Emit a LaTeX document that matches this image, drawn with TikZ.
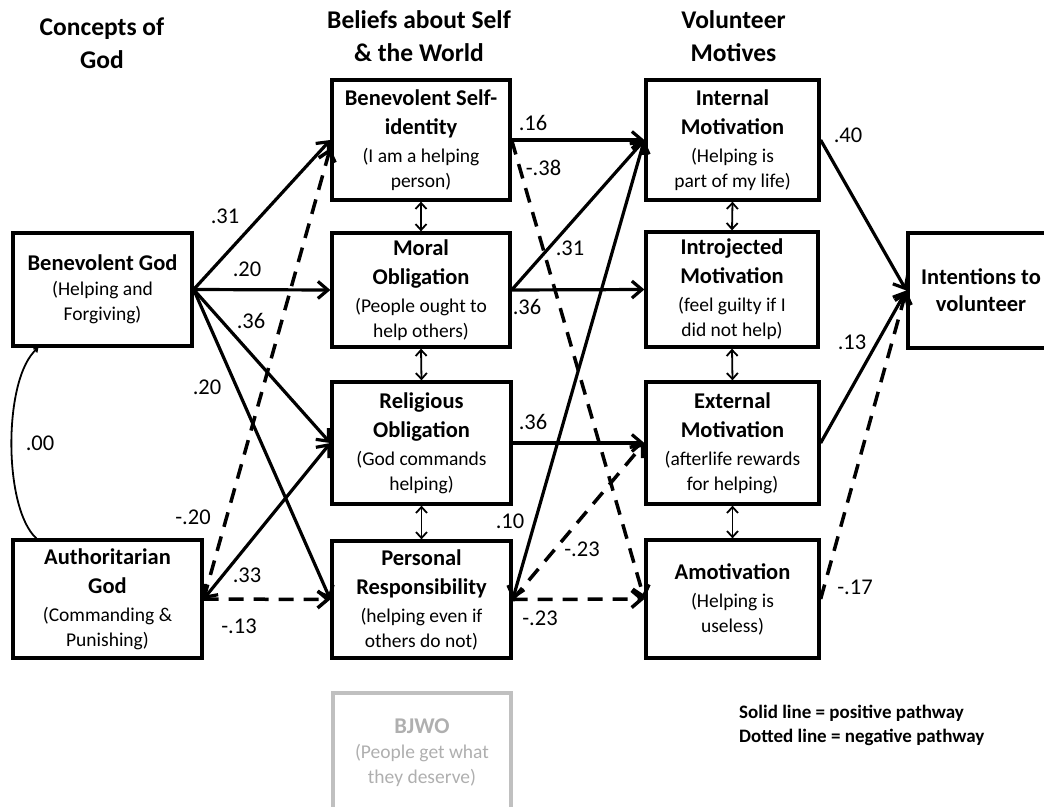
\documentclass[tikz,border=0pt]{standalone}
\usepackage{fontspec}
\setmainfont{Carlito}
\usetikzlibrary{arrows.meta,calc}
\definecolor{lg}{RGB}{192,192,192}
\definecolor{lgt}{RGB}{175,175,175}
\newcommand{\bt}[1]{{\bfseries\fontsize{22.5}{25}\selectfont #1}}
\begin{document}
\begin{tikzpicture}[x=1pt,y=-1pt,
  >={Straight Barb[length=10pt,width=17pt]},
  bx/.style={draw, line width=3.3pt, align=center, inner sep=0pt, font=\fontsize{19.5}{25}\selectfont},
  pa/.style={line width=3.2pt, ->},
  na/.style={line width=3.5pt, ->, dash pattern=on 15pt off 10pt},
  dbl/.style={line width=1.8pt, {Straight Barb[length=6pt,width=11pt]}-{Straight Barb[length=6pt,width=11pt]}},
  lbl/.style={font=\fontsize{22.5}{26}\selectfont, inner sep=0pt},
  hdr/.style={font=\bfseries\fontsize{25.5}{33}\selectfont, align=center, inner sep=0pt}]
\useasboundingbox (0,0) rectangle (1044,806);

% headers
\node[hdr] (h1) at (102,43.5) {Concepts of\\God};
\node[hdr] (h2) at (419,36) {Beliefs about Self\\\& the World};
\node[hdr] (h3) at (733.5,36.5) {Volunteer\\Motives};

% boxes
\node[bx, minimum width=179pt, minimum height=113pt] (BG) at (102.5,289.5) {\bt{Benevolent God}\\(Helping and\\Forgiving)};
\node[bx, minimum width=189pt, minimum height=118pt] (AG) at (107.5,599) {\bt{Authoritarian}\\[4pt]\bt{God}\\[3pt](Commanding \&\\Punishing)};

\node[bx, minimum width=178pt, minimum height=120pt] (BS) at (421,140) {\bt{Benevolent Self-}\\[4pt]\bt{identity}\\[3pt](I am a helping\\person)};
\node[bx, minimum width=178pt, minimum height=114pt] (MO) at (421,290) {\bt{Moral}\\[4pt]\bt{Obligation}\\[3pt](People ought to\\help others)};
\node[bx, minimum width=179pt, minimum height=122pt] (RO) at (421.5,443) {\bt{Religious}\\[4pt]\bt{Obligation}\\[3pt](God commands\\helping)};
\node[bx, minimum width=179pt, minimum height=117pt] (PR) at (421.5,599.5) {\bt{Personal}\\[4pt]\bt{Responsibility}\\[3pt](helping even if\\others do not)};
\node[bx, draw=lg, text=lgt, minimum width=178pt, minimum height=120pt] (BJ) at (422,753) {\bt{BJWO}\\(People get what\\they deserve)};

\node[bx, minimum width=173pt, minimum height=120pt] (IM) at (732.5,140) {\bt{Internal}\\[4pt]\bt{Motivation}\\[3pt](Helping is\\part of my life)};
\node[bx, minimum width=172pt, minimum height=115pt] (IJ) at (732,289.5) {\bt{Introjected}\\[4pt]\bt{Motivation}\\[3pt](feel guilty if I\\did not help)};
\node[bx, minimum width=173pt, minimum height=122pt] (EX) at (732.5,443) {\bt{External}\\[4pt]\bt{Motivation}\\[3pt](afterlife rewards\\for helping)};
\node[bx, minimum width=173pt, minimum height=118pt] (AM) at (732.5,599) {\bt{Amotivation}\\[3pt](Helping is\\useless)};

\node[bx, minimum width=146pt, minimum height=115pt] (IN) at (981,290.5) {\bt{Intentions to}\\[2pt]\bt{volunteer}};

% paths from Concepts of God
\draw[pa] (BG.east) -- (BS.west);
\draw[pa] (BG.east) -- (MO.west);
\draw[pa] (BG.east) -- (RO.west);
\draw[pa] (BG.east) -- (PR.west);
\draw[na] (AG.east) -- ($(BS.west)+(0,8)$);
\draw[pa, <->] (AG.east) -- (RO.west);
\draw[na] (AG.east) -- (PR.west);

% paths from beliefs
\draw[pa] (BS.east) -- (IM.west);
\draw[na] (BS.east) -- (AM.west);
\draw[pa] (MO.east) -- (IM.west);
\draw[pa] (MO.east) -- (IJ.west);
\draw[pa] (RO.east) -- (EX.west);
\draw[pa, <->] (PR.east) -- (IM.west);
\draw[na] (PR.east) -- (EX.west);
\draw[na] (PR.east) -- (AM.west);

% paths to intentions
\draw[pa] (IM.east) -- (IN.west);
\draw[pa] (EX.east) -- (IN.west);
\draw[na] (AM.east) -- (IN.west);

% correlations
\draw[dbl] (BS.south) -- (MO.north);
\draw[dbl] (MO.south) -- (RO.north);
\draw[dbl] (RO.south) -- (PR.north);
\draw[dbl] (IM.south) -- (IJ.north);
\draw[dbl] (IJ.south) -- (EX.north);
\draw[dbl] (EX.south) -- (AM.north);

\draw[line width=1.8pt, {Straight Barb[length=3pt,width=5pt]}-] ($(BG.south west)+(27,0)$) .. controls (3,378) and (3,508) .. ($(AG.north west)+(25,0)$);

% labels
\node[lbl] (l1) at (225,216) {.31};
\node[lbl] (l2) at (247,269) {.20};
\node[lbl] (l3) at (251,321) {.36};
\node[lbl] (l4) at (207,387) {.20};
\node[lbl] (l5) at (40,443) {.00};
\node[lbl] (l6) at (193,517) {-.20};
\node[lbl] (l7) at (247,575) {.33};
\node[lbl] (l8) at (239,626) {-.13};
\node[lbl] (l9) at (533,123) {.16};
\node[lbl] (l10) at (543.5,168) {-.38};
\node[lbl] (l11) at (570,248) {.31};
\node[lbl] (l12) at (527,307) {.36};
\node[lbl] (l13) at (848,135) {.40};
\node[lbl] (l14) at (852,342) {.13};
\node[lbl] (l15) at (533,422) {.36};
\node[lbl] (l16) at (510,521) {.10};
\node[lbl] (l17) at (582,549) {-.23};
\node[lbl] (l18) at (540,618) {-.23};
\node[lbl] (l19) at (855,587) {-.17};

% legend
\node[font=\bfseries\fontsize{19}{24}\selectfont, align=left, anchor=west, inner sep=0pt] (leg) at (739,725) {Solid line = positive pathway\\Dotted line = negative pathway};
\end{tikzpicture}
\end{document}
